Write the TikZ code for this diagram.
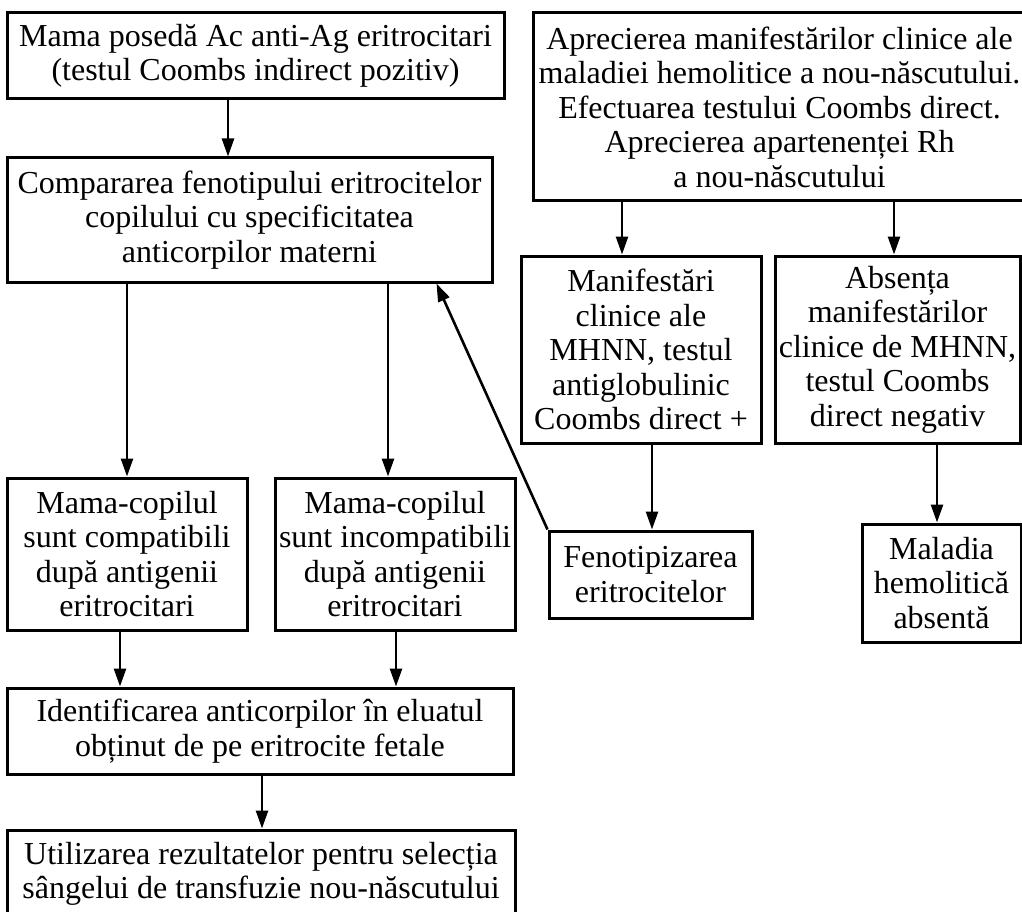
\documentclass[tikz,border=0pt]{standalone}
\usepackage{fontspec}
\setmainfont{Liberation Serif}
\usetikzlibrary{arrows.meta}

\tikzset{
  box/.style={draw, line width=3pt, inner sep=0pt, align=center,
    font=\fontsize{32}{34.5}\selectfont},
  arr/.style={line width=2.6pt, -{Triangle[length=18pt,width=12pt]}}
}

\begin{document}
\begin{tikzpicture}[x=1pt,y=-1pt]
\useasboundingbox (0,0) rectangle (1022,912);

% left column
\node[box, minimum width=497pt, minimum height=86pt] (A) at (255.5,56)
  {Mama posedă Ac anti-Ag eritrocitari\\(testul Coombs indirect pozitiv)};
\node[box, minimum width=485pt, minimum height=124pt] (C) at (249.5,220)
  {Compararea fenotipului eritrocitelor\\copilului cu specificitatea\\anticorpilor materni};
\node[box, minimum width=240pt, minimum height=152pt] (F) at (127,554)
  {Mama-copilul\\sunt compatibili\\după antigenii\\eritrocitari};
\node[box, minimum width=240pt, minimum height=152pt] (G) at (395,554)
  {Mama-copilul\\sunt incompatibili\\după antigenii\\eritrocitari};
\node[box, minimum width=506pt, minimum height=86pt] (J) at (260,731)
  {Identificarea anticorpilor în eluatul\\obținut de pe eritrocite fetale};
\node[box, minimum width=508pt, minimum height=88pt] (K) at (261,874)
  {Utilizarea rezultatelor pentru selecția\\sângelui de transfuzie nou-născutului};

% right column
\node[box, minimum width=493pt, minimum height=188pt] (B) at (779.5,107)
  {Aprecierea manifestărilor clinice ale\\maladiei hemolitice a nou-născutului.\\Efectuarea testului Coombs direct.\\Aprecierea apartenenței Rh\\a nou-născutului};
\node[box, minimum width=240pt, minimum height=187pt] (D) at (641,349.5)
  {Manifestări\\clinice ale\\MHNN, testul\\antiglobulinic\\Coombs direct +};
\node[box, minimum width=245pt, minimum height=187pt] (E) at (897.5,349.5)
  {Absența\\manifestărilor\\clinice de MHNN,\\testul Coombs\\direct negativ};
\node[box, minimum width=203pt, minimum height=87pt] (H) at (650.5,574.5)
  {Fenotipizarea\\eritrocitelor};
\node[box, minimum width=159pt, minimum height=118pt] (I) at (941.5,583)
  {Maladia\\hemolitică\\absentă};

% connectors
\draw[arr] ([xshift=-27.5pt]A.south) -- ([xshift=-27.5pt]A.south |- C.north);
\draw[arr] ([xshift=-157.5pt]B.south) -- ([xshift=-157.5pt]B.south |- D.north);
\draw[arr] ([xshift=114.5pt]B.south) -- ([xshift=114.5pt]B.south |- E.north);
\draw[arr] ([xshift=-122.5pt]C.south) -- ([xshift=-122.5pt]C.south |- F.north);
\draw[arr] ([xshift=138.5pt]C.south) -- ([xshift=138.5pt]C.south |- G.north);
\draw[arr] ([xshift=11pt]D.south) -- ([xshift=11pt]D.south |- H.north);
\draw[arr] ([xshift=39.5pt]E.south) -- ([xshift=39.5pt]E.south |- I.north);
\draw[arr] (H.north west) -- ([xshift=-57pt]C.south east);
\draw[arr] ([xshift=-7pt]F.south) -- ([xshift=-7pt]F.south |- J.north);
\draw[arr] ([xshift=1pt]G.south) -- ([xshift=1pt]G.south |- J.north);
\draw[arr] ([xshift=2pt]J.south) -- ([xshift=2pt]J.south |- K.north);
\end{tikzpicture}
\end{document}
